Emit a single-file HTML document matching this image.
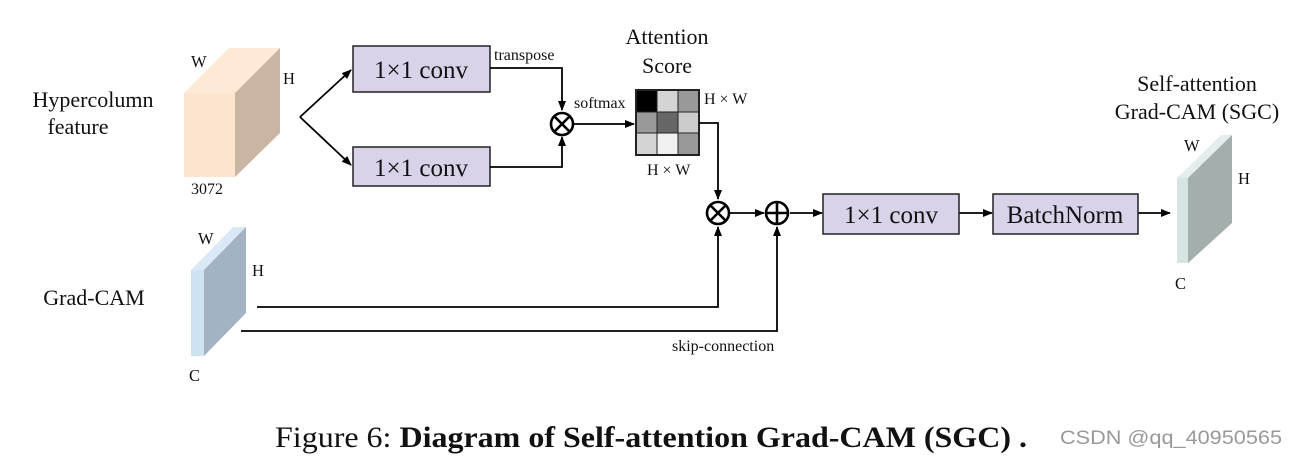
<!DOCTYPE html>
<html><head><meta charset="utf-8"><style>
html,body{margin:0;padding:0;background:#fff;}
svg{display:block;}
text{font-family:"Liberation Serif",serif;fill:#111;}
</style></head><body>
<svg width="1297" height="456" viewBox="0 0 1297 456" xmlns="http://www.w3.org/2000/svg">
<defs>
<marker id="a" markerWidth="10" markerHeight="8" refX="9" refY="4" orient="auto" markerUnits="userSpaceOnUse">
<path d="M0,0 L10,4 L0,8 Z" fill="#000"/></marker>
</defs>
<!-- Hypercolumn cube -->
<polygon points="184,93 235,93 280,48 229,48" fill="#fde9d6"/>
<polygon points="235,93 280,48 280,133 235,177" fill="#c9b5a1"/>
<rect x="184" y="93" width="51" height="84" fill="#fce4cf"/>
<text x="191" y="67" font-size="16.5">W</text>
<text x="283" y="84" font-size="16.5">H</text>
<text x="191" y="194" font-size="16">3072</text>
<text x="93" y="107" font-size="22" text-anchor="middle">Hypercolumn</text>
<text x="78" y="134" font-size="22" text-anchor="middle">feature</text>
<g stroke="#000" stroke-width="1.8" fill="none">
<line x1="300" y1="117" x2="351" y2="70" marker-end="url(#a)"/>
<line x1="300" y1="117" x2="351" y2="165" marker-end="url(#a)"/>
</g>
<rect x="353" y="46" width="137" height="46" fill="#d9d2e9" stroke="#222" stroke-width="1.5"/>
<text x="421" y="78" font-size="25" text-anchor="middle">1×1 conv</text>
<rect x="353" y="147" width="137" height="39" fill="#d9d2e9" stroke="#222" stroke-width="1.5"/>
<text x="421" y="176" font-size="25" text-anchor="middle">1×1 conv</text>
<text x="494" y="60" font-size="16">transpose</text>
<g stroke="#000" stroke-width="1.8" fill="none">
<polyline points="490,68 562,68 562,110" marker-end="url(#a)"/>
<polyline points="490,167 562,167 562,137" marker-end="url(#a)"/>
<line x1="574" y1="124" x2="634" y2="124" marker-end="url(#a)"/>
</g>
<g stroke="#000" stroke-width="2.6" fill="none">
<circle cx="562" cy="124" r="11"/>
<line x1="554" y1="116" x2="570" y2="132"/><line x1="570" y1="116" x2="554" y2="132"/>
</g>
<text x="574" y="108" font-size="16">softmax</text>
<g stroke="#222" stroke-width="1">
<rect x="636" y="90" width="21" height="22" fill="#000"/>
<rect x="657" y="90" width="21" height="22" fill="#d4d4d4"/>
<rect x="678" y="90" width="21" height="22" fill="#999"/>
<rect x="636" y="112" width="21" height="21" fill="#999"/>
<rect x="657" y="112" width="21" height="21" fill="#666"/>
<rect x="678" y="112" width="21" height="21" fill="#ccc"/>
<rect x="636" y="133" width="21" height="22" fill="#d4d4d4"/>
<rect x="657" y="133" width="21" height="22" fill="#f0f0f0"/>
<rect x="678" y="133" width="21" height="22" fill="#999"/>
</g>
<rect x="636" y="90" width="63" height="65" fill="none" stroke="#222" stroke-width="2"/>
<text x="704" y="104" font-size="16">H × W</text>
<text x="647" y="175" font-size="16">H × W</text>
<text x="667" y="44" font-size="22" text-anchor="middle">Attention</text>
<text x="667" y="73" font-size="22" text-anchor="middle">Score</text>
<g stroke="#000" stroke-width="1.8" fill="none">
<polyline points="699,123 718,123 718,199" marker-end="url(#a)"/>
<line x1="730" y1="213" x2="764" y2="213" marker-end="url(#a)"/>
<line x1="790" y1="213" x2="822" y2="213" marker-end="url(#a)"/>
<line x1="959" y1="213" x2="992" y2="213" marker-end="url(#a)"/>
<line x1="1138" y1="213" x2="1170" y2="213" marker-end="url(#a)"/>
<polyline points="257,307 718,307 718,227" marker-end="url(#a)"/>
<polyline points="241,331 777,331 777,227" marker-end="url(#a)"/>
</g>
<g stroke="#000" stroke-width="2.6" fill="none">
<circle cx="718" cy="213" r="11"/>
<line x1="710" y1="205" x2="726" y2="221"/><line x1="726" y1="205" x2="710" y2="221"/>
<circle cx="777" cy="213" r="11"/>
<line x1="766" y1="213" x2="788" y2="213"/><line x1="777" y1="202" x2="777" y2="224"/>
</g>
<rect x="823" y="194" width="136" height="40" fill="#d9d2e9" stroke="#222" stroke-width="1.5"/>
<text x="891" y="223" font-size="25" text-anchor="middle">1×1 conv</text>
<rect x="993" y="194" width="145" height="40" fill="#d9d2e9" stroke="#222" stroke-width="1.5"/>
<text x="1065" y="223" font-size="25" text-anchor="middle">BatchNorm</text>
<polygon points="1177,178 1188,178 1232,135 1221,135" fill="#e3eded"/>
<polygon points="1188,178 1232,135 1232,223 1188,263" fill="#a3afad"/>
<rect x="1177" y="178" width="11" height="85" fill="#d6e4e4"/>
<text x="1184" y="151" font-size="16.5">W</text>
<text x="1238" y="184" font-size="16.5">H</text>
<text x="1175" y="289" font-size="16.5">C</text>
<text x="1197" y="91" font-size="22" text-anchor="middle">Self-attention</text>
<text x="1197" y="119" font-size="22" text-anchor="middle">Grad-CAM (SGC)</text>
<polygon points="191,270 204,270 246,227 233,227" fill="#dbe9f6"/>
<polygon points="204,270 246,227 246,313 204,356" fill="#a3b3c3"/>
<rect x="191" y="270" width="13" height="86" fill="#cfe2f3"/>
<text x="198" y="244" font-size="16.5">W</text>
<text x="252" y="276" font-size="16.5">H</text>
<text x="189" y="381" font-size="16.5">C</text>
<text x="94" y="305" font-size="22" text-anchor="middle">Grad-CAM</text>
<text x="672" y="351" font-size="16">skip-connection</text>
<text x="275" y="447" font-size="30" textLength="752" lengthAdjust="spacingAndGlyphs">Figure 6: <tspan font-weight="bold">Diagram of Self-attention Grad-CAM (SGC) .</tspan></text>
<text x="1060" y="444" font-size="19" textLength="222" lengthAdjust="spacingAndGlyphs" style="font-family:'Liberation Sans',sans-serif;fill:#999">CSDN @qq_40950565</text>
</svg>
</body></html>
